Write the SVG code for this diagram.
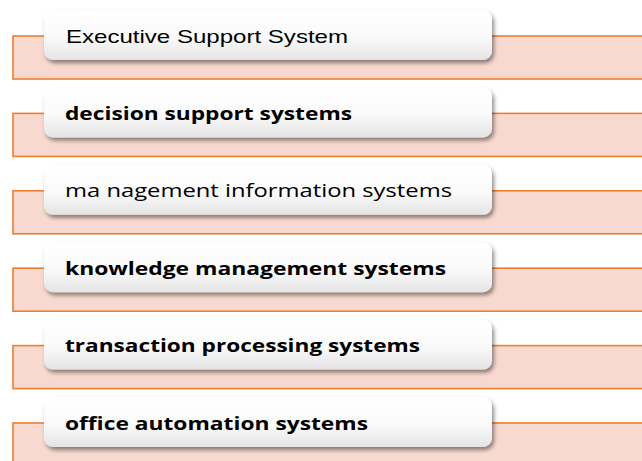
<svg xmlns="http://www.w3.org/2000/svg" width="642" height="461" viewBox="0 0 642 461">
<defs>
<linearGradient id="lg" x1="0" y1="0" x2="0" y2="1">
<stop offset="0" stop-color="#ffffff"/>
<stop offset="0.55" stop-color="#fafafa"/>
<stop offset="1" stop-color="#e4e4e4"/>
</linearGradient>
<filter id="sh" x="-5%" y="-20%" width="112%" height="160%">
<feDropShadow dx="2" dy="3" stdDeviation="2" flood-color="#000" flood-opacity="0.45"/>
</filter>
</defs>
<style>
.band{fill:#f8d9cf;stroke:#ed7d31;stroke-width:1.6}
.lbl{fill:url(#lg);filter:url(#sh)}
.t{font-size:18px;fill:#000}
.b{font-family:"Open Sans","Noto Sans",sans-serif;font-weight:bold}
.r{font-family:"Open Sans","Noto Sans",sans-serif}
.a{font-family:"Liberation Sans",Arial,sans-serif;font-size:19px}
</style>
<g id="connectors"></g>
<g id="row1">
<rect class="band" x="13" y="36" width="640" height="43"/>
<rect class="lbl" x="44" y="10" width="448" height="50" rx="9"/>
<text class="t a" x="66" y="43" textLength="282" lengthAdjust="spacingAndGlyphs">Executive Support System</text>
</g>
<g id="row2">
<rect class="band" x="13" y="113.4" width="640" height="43"/>
<rect class="lbl" x="44" y="87.4" width="448" height="50" rx="9"/>
<text class="t b" x="65" y="120" textLength="287" lengthAdjust="spacingAndGlyphs">decision support systems</text>
</g>
<g id="row3">
<rect class="band" x="13" y="190.8" width="640" height="43"/>
<rect class="lbl" x="44" y="164.8" width="448" height="50" rx="9"/>
<text class="t r" x="65" y="197" textLength="387" lengthAdjust="spacingAndGlyphs">ma nagement information systems</text>
</g>
<g id="row4">
<rect class="band" x="13" y="268.2" width="640" height="43"/>
<rect class="lbl" x="44" y="242.2" width="448" height="50" rx="9"/>
<text class="t b" x="65" y="274.5" textLength="381" lengthAdjust="spacingAndGlyphs">knowledge management systems</text>
</g>
<g id="row5">
<rect class="band" x="13" y="345.6" width="640" height="43"/>
<rect class="lbl" x="44" y="319.6" width="448" height="50" rx="9"/>
<text class="t b" x="65" y="352" textLength="355" lengthAdjust="spacingAndGlyphs">transaction processing systems</text>
</g>
<g id="row6">
<rect class="band" x="13" y="423" width="640" height="43"/>
<rect class="lbl" x="44" y="397" width="448" height="50" rx="9"/>
<text class="t b" x="65" y="429.5" textLength="303" lengthAdjust="spacingAndGlyphs">office automation systems</text>
</g>
</svg>
